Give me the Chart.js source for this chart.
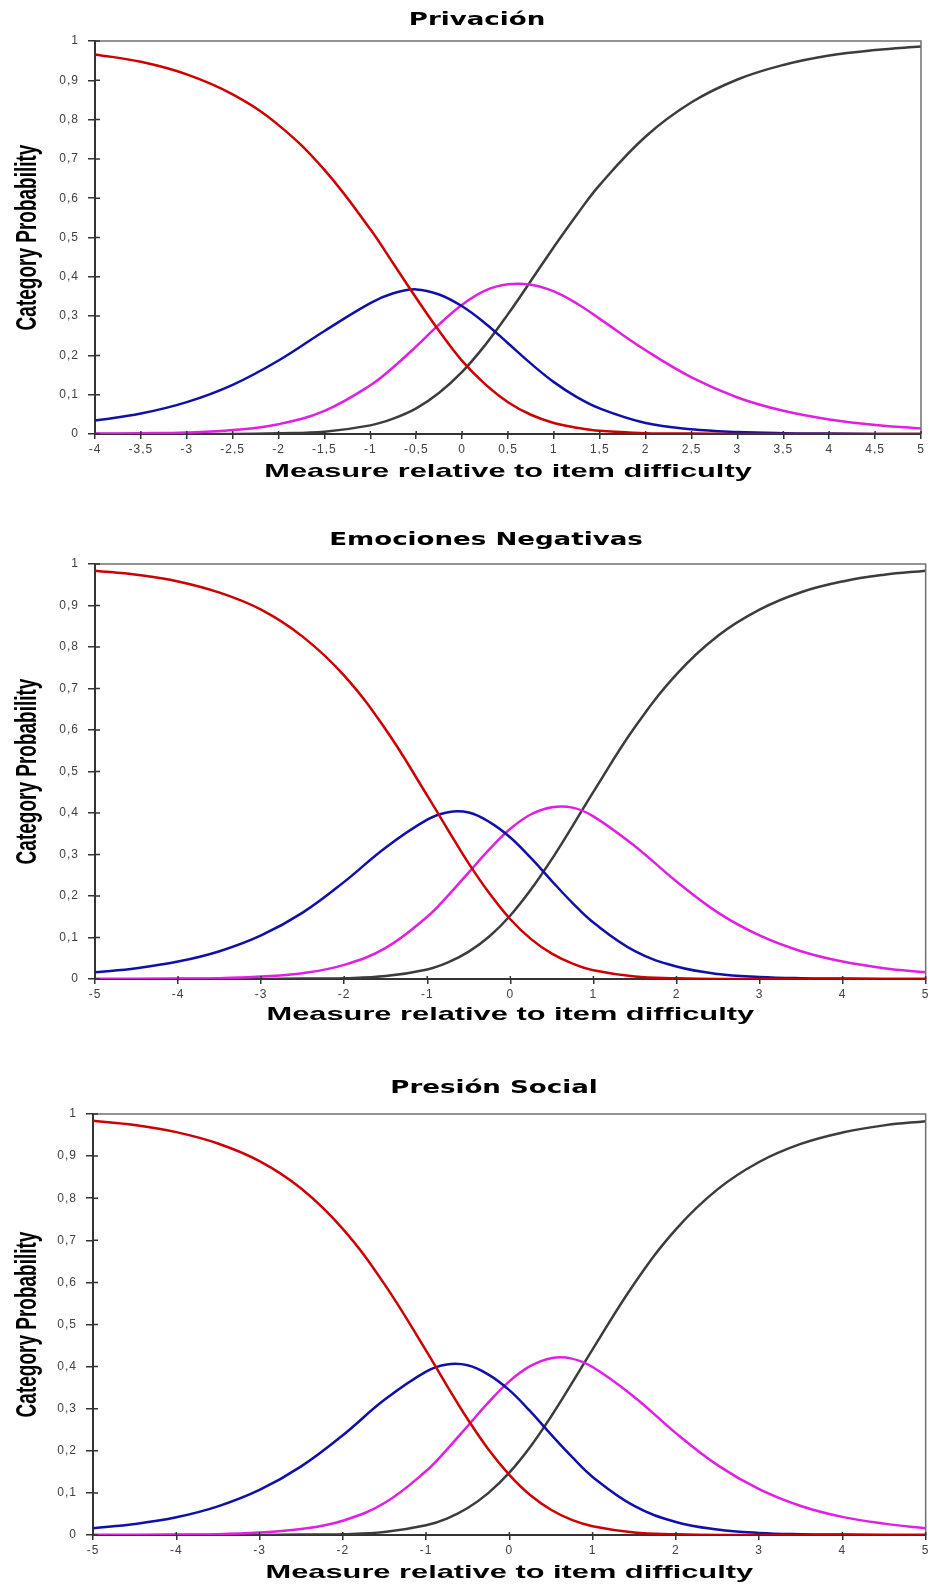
<!DOCTYPE html>
<html>
<head>
<meta charset="utf-8">
<script src="https://cdn.jsdelivr.net/npm/chart.js@4.4.1/dist/chart.umd.min.js"></script>
<style>
  html, body { margin: 0; padding: 0; background: #fff; }
  .panel { position: absolute; left: 0; width: 932px; }
  canvas { display: block; }
</style>
</head>
<body>
<div class="panel" style="top:0;height:500px"><canvas id="c1"></canvas></div>
<div class="panel" style="top:500px;height:540px"><canvas id="c2"></canvas></div>
<div class="panel" style="top:1040px;height:544px"><canvas id="c3"></canvas></div>
<script>
// panel titles
const titles = ['Privación', 'Emociones Negativas', 'Presión Social'];
const xAxisTitle = 'Measure relative to item difficulty';
const yAxisTitle = 'Category Probability';

// tick values
const yTicks = [0, 0.1, 0.2, 0.3, 0.4, 0.5, 0.6, 0.7, 0.8, 0.9, 1];
const xTicks1 = [-4, -3.5, -3, -2.5, -2, -1.5, -1, -0.5, 0, 0.5, 1, 1.5, 2, 2.5, 3, 3.5, 4, 4.5, 5];
const xTicks2 = [-5, -4, -3, -2, -1, 0, 1, 2, 3, 4, 5];

// Privación
const xs1 = [-4, -3.5, -3, -2.5, -2, -1.5, -1, -0.75, -0.5, -0.25, 0, 0.25, 0.5, 0.75, 1, 1.25, 1.5, 2, 2.5, 3, 3.5, 4, 4.5, 5];
const red1 = [0.966, 0.947, 0.915, 0.864, 0.786, 0.672, 0.521, 0.434, 0.346, 0.262, 0.186, 0.127, 0.081, 0.049, 0.028, 0.016, 0.008, 0.002, 0.001, 0, 0, 0, 0, 0];
const blue1 = [0.034, 0.052, 0.081, 0.125, 0.187, 0.262, 0.333, 0.358, 0.368, 0.355, 0.325, 0.282, 0.231, 0.179, 0.132, 0.094, 0.065, 0.028, 0.012, 0.005, 0.002, 0.001, 0, 0];
const pink1 = [0.001, 0.002, 0.004, 0.010, 0.025, 0.059, 0.124, 0.170, 0.223, 0.279, 0.329, 0.365, 0.381, 0.380, 0.363, 0.332, 0.293, 0.213, 0.144, 0.093, 0.059, 0.037, 0.023, 0.014];
const grey1 = [0, 0, 0, 0, 0.002, 0.006, 0.022, 0.039, 0.065, 0.105, 0.158, 0.226, 0.305, 0.390, 0.476, 0.558, 0.634, 0.757, 0.844, 0.902, 0.939, 0.963, 0.977, 0.986];

// Emociones Negativas
const xs2 = [-5, -4.5, -4, -3.5, -3, -2.5, -2, -1.5, -1, -0.75, -0.5, -0.25, 0, 0.25, 0.5, 0.75, 1, 1.5, 2, 2.5, 3, 3.5, 4, 4.5, 5];
const red2 = [0.984, 0.974, 0.958, 0.931, 0.890, 0.825, 0.731, 0.601, 0.442, 0.359, 0.278, 0.206, 0.144, 0.096, 0.061, 0.037, 0.021, 0.006, 0.002, 0, 0, 0, 0, 0, 0];
const blue2 = [0.016, 0.026, 0.042, 0.067, 0.105, 0.160, 0.234, 0.317, 0.384, 0.402, 0.401, 0.378, 0.341, 0.291, 0.236, 0.183, 0.136, 0.067, 0.030, 0.012, 0.005, 0.002, 0.001, 0, 0];
const pink2 = [0, 0, 0.001, 0.002, 0.006, 0.014, 0.034, 0.075, 0.150, 0.201, 0.257, 0.313, 0.362, 0.397, 0.414, 0.413, 0.392, 0.320, 0.235, 0.160, 0.105, 0.067, 0.042, 0.026, 0.016];
const grey2 = [0, 0, 0, 0, 0, 0.001, 0.002, 0.007, 0.023, 0.040, 0.066, 0.103, 0.153, 0.216, 0.289, 0.369, 0.451, 0.607, 0.734, 0.827, 0.890, 0.932, 0.958, 0.974, 0.984];

// Presión Social
const xs3 = xs2;
const red3 = [0.984, 0.974, 0.957, 0.930, 0.888, 0.823, 0.727, 0.596, 0.438, 0.355, 0.275, 0.203, 0.143, 0.095, 0.060, 0.036, 0.021, 0.006, 0.002, 0, 0, 0, 0, 0, 0];
const blue3 = [0.016, 0.026, 0.042, 0.068, 0.107, 0.163, 0.237, 0.321, 0.388, 0.405, 0.403, 0.381, 0.344, 0.294, 0.239, 0.186, 0.138, 0.069, 0.031, 0.013, 0.005, 0.002, 0.001, 0, 0];
const pink3 = [0, 0, 0.001, 0.002, 0.006, 0.014, 0.034, 0.076, 0.152, 0.203, 0.259, 0.315, 0.365, 0.401, 0.420, 0.419, 0.399, 0.328, 0.242, 0.166, 0.109, 0.069, 0.043, 0.027, 0.016];
const grey3 = [0, 0, 0, 0, 0, 0.001, 0.002, 0.007, 0.023, 0.039, 0.064, 0.100, 0.148, 0.209, 0.281, 0.360, 0.441, 0.597, 0.726, 0.821, 0.886, 0.929, 0.956, 0.973, 0.983];

const tickColor = '#404040';
const axisColor = '#333333';

// text stretched sideways like the source picture
function wideText(ctx, text, x, y, font, sx, vertical) {
  ctx.save();
  ctx.translate(x, y);
  ctx.scale(sx, 1);
  if (vertical) ctx.rotate(-Math.PI / 2);
  ctx.font = font;
  ctx.fillStyle = '#000';
  ctx.textAlign = 'center';
  ctx.textBaseline = 'middle';
  ctx.fillText(text, 0, 0);
  ctx.restore();
}

const panelText = {
  id: 'panelText',
  beforeDraw(chart) {
    chart.ctx.letterSpacing = '1px';
  },
  afterDraw(chart, args, opts) {
    const ctx = chart.ctx;
    const a = chart.chartArea;
    ctx.save();
    ctx.letterSpacing = '0px';
    // top and right frame
    ctx.strokeStyle = '#707070';
    ctx.lineWidth = 1.5;
    ctx.beginPath();
    ctx.moveTo(a.left, a.top);
    ctx.lineTo(a.right, a.top);
    ctx.lineTo(a.right, a.bottom);
    ctx.stroke();
    // tick marks cross the axes
    ctx.strokeStyle = axisColor;
    ctx.lineWidth = 1.5;
    ctx.beginPath();
    chart.scales.y.ticks.forEach(t => {
      const py = chart.scales.y.getPixelForValue(t.value);
      ctx.moveTo(a.left, py);
      ctx.lineTo(a.left + 5, py);
    });
    chart.scales.x.ticks.forEach(t => {
      const px = chart.scales.x.getPixelForValue(t.value);
      ctx.moveTo(px, a.bottom);
      ctx.lineTo(px, a.bottom - 3);
    });
    ctx.stroke();
    wideText(ctx, opts.title, opts.titleX, opts.titleY, 'bold 18px "DejaVu Sans"', 1.45, false);
    wideText(ctx, xAxisTitle, (a.left + a.right) / 2, opts.xTitleY, 'bold 19px "Liberation Sans"', 1.62, false);
    wideText(ctx, yAxisTitle, 28, (a.top + a.bottom) / 2, 'bold 19px "Liberation Sans"', 1.6, true);
    ctx.restore();
  }
};

function series(xs, ys, color, order) {
  return {
    data: xs.map((x, i) => ({ x: x, y: ys[i] })),
    borderColor: color,
    borderWidth: 2.5,
    pointRadius: 0,
    tension: 0.4,
    fill: false,
    order: order
  };
}

function buildChart(id, p) {
  const canvas = document.getElementById(id);
  const H = canvas.parentNode.clientHeight;
  const W = 932;
  const xAxisH = 20;
  return new Chart(canvas, {
    type: 'line',
    data: {
      datasets: [
        series(p.xs, p.red, '#cc0000', 1),
        series(p.xs, p.blue, '#1010a8', 2),
        series(p.xs, p.pink, '#e020e0', 3),
        series(p.xs, p.grey, '#3c3c3c', 4)
      ]
    },
    options: {
      responsive: true,
      maintainAspectRatio: false,
      animation: false,
      events: [],
      layout: {
        padding: { left: 0, top: p.top, right: W - p.right, bottom: H - p.bottom - xAxisH }
      },
      plugins: {
        legend: { display: false },
        tooltip: { enabled: false },
        panelText: { title: p.title, titleX: p.titleX, titleY: p.titleY, xTitleY: p.xTitleY }
      },
      scales: {
        x: {
          type: 'linear',
          min: p.xTicks[0],
          max: p.xTicks[p.xTicks.length - 1],
          afterBuildTicks: s => { s.ticks = p.xTicks.map(v => ({ value: v })); },
          afterFit: s => { s.height = xAxisH; },
          ticks: {
            autoSkip: false,
            maxRotation: 0,
            padding: 3,
            color: tickColor,
            font: { family: 'Liberation Sans', size: 12 },
            callback: v => String(v).replace('.', ',')
          },
          grid: { drawOnChartArea: false, tickLength: 5, color: axisColor, lineWidth: 1.5 },
          border: { color: axisColor, width: 2 }
        },
        y: {
          min: 0,
          max: 1,
          afterBuildTicks: s => { s.ticks = yTicks.map(v => ({ value: v })); },
          afterFit: s => { s.width = p.left; },
          ticks: {
            padding: 9,
            color: tickColor,
            font: { family: 'Liberation Sans', size: 12 },
            callback: v => String(v).replace('.', ',')
          },
          grid: { drawOnChartArea: false, tickLength: 7, color: axisColor, lineWidth: 1.5 },
          border: { color: axisColor, width: 2 }
        }
      }
    },
    plugins: [panelText]
  });
}

buildChart('c1', {
  title: titles[0], titleX: 477, titleY: 20, xTitleY: 472,
  left: 95, right: 921, top: 41, bottom: 434,
  xTicks: xTicks1, xs: xs1, red: red1, blue: blue1, pink: pink1, grey: grey1
});
buildChart('c2', {
  title: titles[1], titleX: 486, titleY: 40, xTitleY: 515,
  left: 95, right: 927, top: 64, bottom: 479,
  xTicks: xTicks2, xs: xs2, red: red2, blue: blue2, pink: pink2, grey: grey2
});
buildChart('c3', {
  title: titles[2], titleX: 494, titleY: 48, xTitleY: 533,
  left: 93, right: 927, top: 74, bottom: 495,
  xTicks: xTicks2, xs: xs3, red: red3, blue: blue3, pink: pink3, grey: grey3
});
</script>
</body>
</html>
